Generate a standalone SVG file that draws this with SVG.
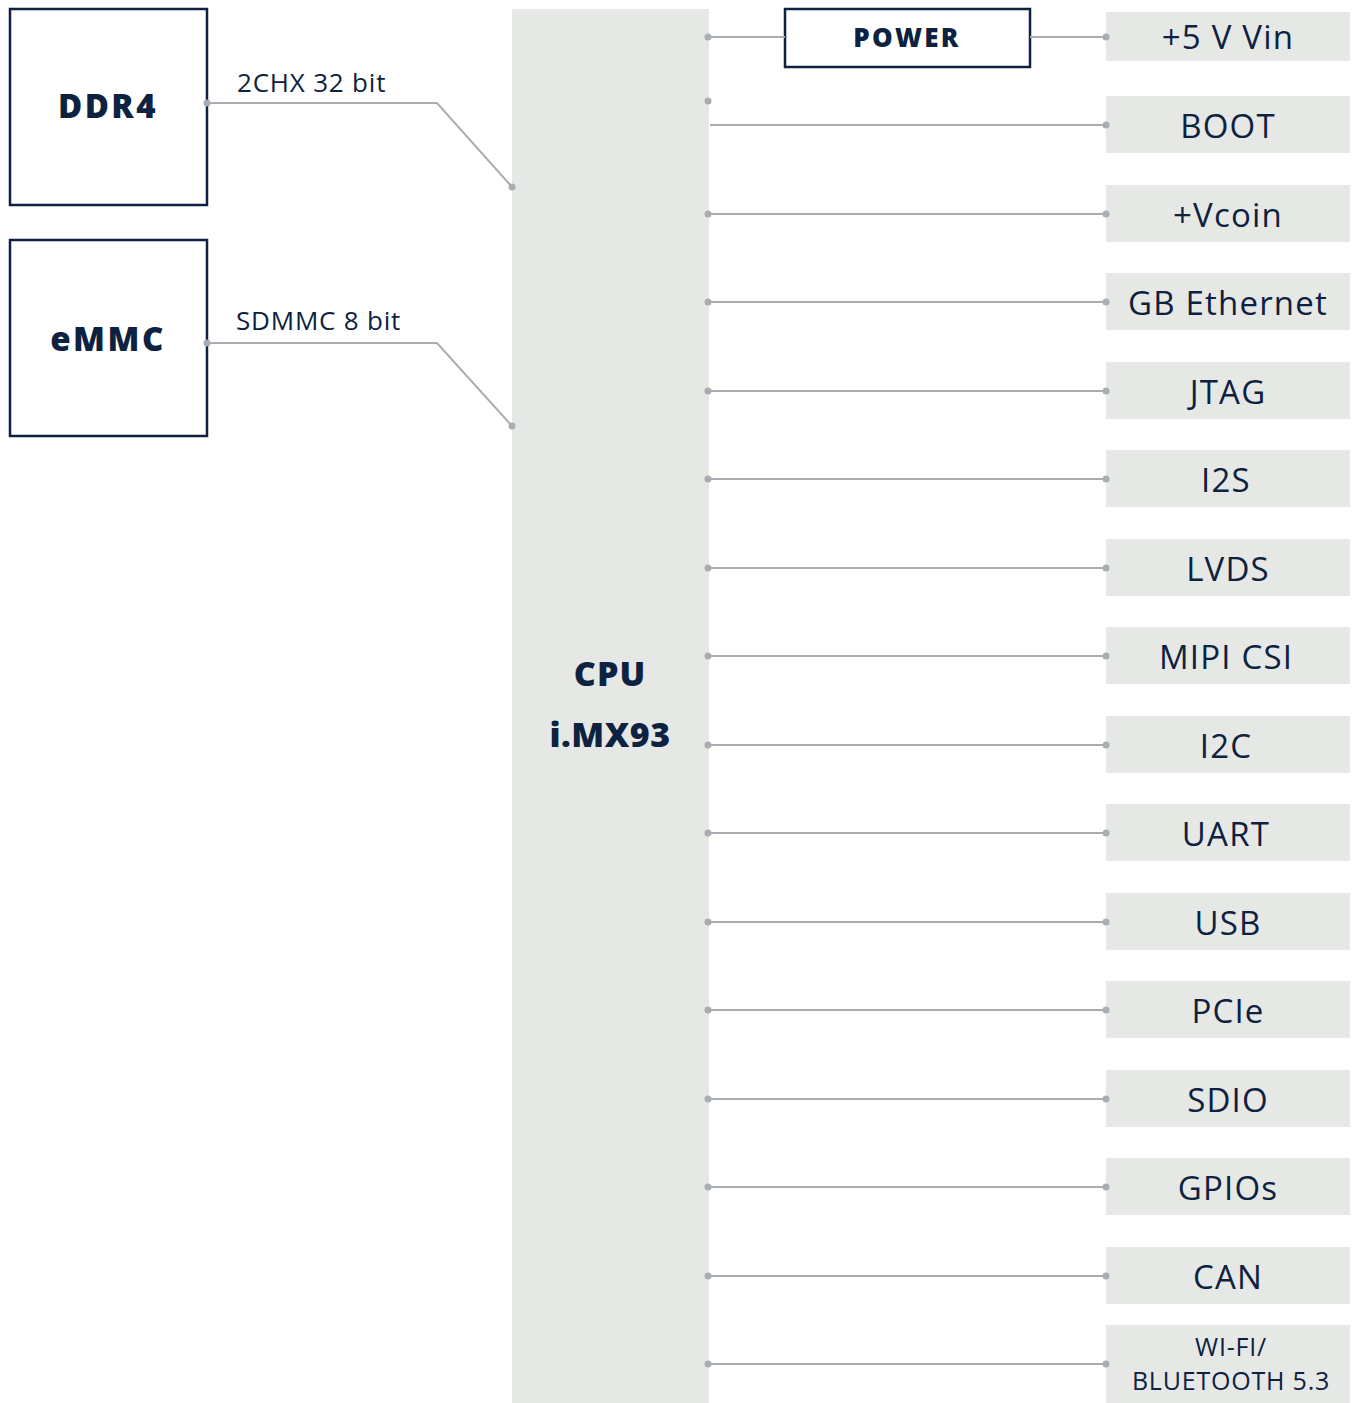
<svg xmlns="http://www.w3.org/2000/svg" width="1354" height="1403" viewBox="0 0 1354 1403">
<style>
.box{fill:#fff;stroke:#0d2240;stroke-width:2.5}
.ifc{fill:#e6e8e5}
.t{font-family:"Open Sans","Liberation Sans",sans-serif;fill:#0d2240}
.b{font-weight:800}
.lbl{font-size:33px;text-anchor:middle;letter-spacing:1.2px}
.con{fill:none;stroke:#a9adb1;stroke-width:2}
.dot{fill:#a9adb1}
</style>
<rect width="1354" height="1403" fill="#fff"/>
<g id="cpu">
<rect class="ifc" x="512" y="9" width="197" height="1394"/>
<text class="t b" x="610" y="686" font-size="34" text-anchor="middle" letter-spacing="1">CPU</text>
<text class="t b" x="610" y="747" font-size="34" text-anchor="middle" letter-spacing="0.5">i.MX93</text>
</g>
<g id="ddr4">
<rect class="box" x="10" y="9" width="197" height="196"/>
<text class="t b" x="108" y="118" font-size="33" text-anchor="middle" letter-spacing="2.5">DDR4</text>
</g>
<g id="emmc">
<rect class="box" x="10" y="240" width="197" height="196"/>
<text class="t b" x="108" y="351" font-size="33" text-anchor="middle" letter-spacing="2.5">eMMC</text>
</g>
<g id="power">
<rect class="box" x="785" y="9" width="245" height="58"/>
<text class="t b" x="907" y="47" font-size="26" text-anchor="middle" letter-spacing="2.3">POWER</text>
</g>
<g id="vin"><rect class="ifc" x="1106" y="12" width="244" height="49"/><text class="t lbl" x="1228" y="49">+5 V Vin</text></g>
<g id="boot"><rect class="ifc" x="1106" y="96" width="244" height="57"/><text class="t lbl" x="1228" y="138">BOOT</text></g>
<g id="vcoin"><rect class="ifc" x="1106" y="185" width="244" height="57"/><text class="t lbl" x="1228" y="227">+Vcoin</text></g>
<g id="eth"><rect class="ifc" x="1106" y="273" width="244" height="57"/><text class="t lbl" x="1228" y="315">GB Ethernet</text></g>
<g id="jtag"><rect class="ifc" x="1106" y="362" width="244" height="57"/><text class="t lbl" x="1228" y="404">JTAG</text></g>
<g id="i2s"><rect class="ifc" x="1106" y="450" width="244" height="57"/><text class="t lbl" x="1226" y="492">I2S</text></g>
<g id="lvds"><rect class="ifc" x="1106" y="539" width="244" height="57"/><text class="t lbl" x="1228" y="581">LVDS</text></g>
<g id="mipi"><rect class="ifc" x="1106" y="627" width="244" height="57"/><text class="t lbl" x="1226" y="669">MIPI CSI</text></g>
<g id="i2c"><rect class="ifc" x="1106" y="716" width="244" height="57"/><text class="t lbl" x="1226" y="758">I2C</text></g>
<g id="uart"><rect class="ifc" x="1106" y="804" width="244" height="57"/><text class="t lbl" x="1226" y="846">UART</text></g>
<g id="usb"><rect class="ifc" x="1106" y="893" width="244" height="57"/><text class="t lbl" x="1228" y="935">USB</text></g>
<g id="pcie"><rect class="ifc" x="1106" y="981" width="244" height="57"/><text class="t lbl" x="1228" y="1023">PCIe</text></g>
<g id="sdio"><rect class="ifc" x="1106" y="1070" width="244" height="57"/><text class="t lbl" x="1228" y="1112">SDIO</text></g>
<g id="gpio"><rect class="ifc" x="1106" y="1158" width="244" height="57"/><text class="t lbl" x="1228" y="1200">GPIOs</text></g>
<g id="can"><rect class="ifc" x="1106" y="1247" width="244" height="57"/><text class="t lbl" x="1228" y="1289">CAN</text></g>
<g id="wifi"><rect class="ifc" x="1106" y="1325" width="244" height="78"/>
<text class="t" x="1231" y="1356" font-size="25" text-anchor="middle" letter-spacing="0.8">WI-FI/</text>
<text class="t" x="1231" y="1390" font-size="25" text-anchor="middle" letter-spacing="0.8">BLUETOOTH 5.3</text></g>
<g id="connectors">
<text class="t" x="237" y="92" font-size="26" letter-spacing="0.8">2CHX 32 bit</text>
<text class="t" x="236" y="330" font-size="26" letter-spacing="0.8">SDMMC 8 bit</text>
<polyline class="con" points="207,103 437,103 512,187"/>
<polyline class="con" points="207,343 437,343 512,426"/>
<circle class="dot" cx="207" cy="103" r="3.5"/><circle class="dot" cx="512" cy="187" r="3.5"/>
<circle class="dot" cx="207" cy="343" r="3.5"/><circle class="dot" cx="512" cy="426" r="3.5"/>
<line class="con" x1="708" y1="37" x2="785" y2="37"/><circle class="dot" cx="708" cy="37" r="3.5"/>
<line class="con" x1="1030" y1="37" x2="1106" y2="37"/><circle class="dot" cx="1106" cy="37" r="3.5"/>
<circle class="dot" cx="708" cy="101" r="3.5"/>
<line class="con" x1="710" y1="125" x2="1106" y2="125"/><circle class="dot" cx="1106" cy="125" r="3.5"/>
<g>
<line class="con" x1="708" y1="214" x2="1106" y2="214"/><circle class="dot" cx="708" cy="214" r="3.5"/><circle class="dot" cx="1106" cy="214" r="3.5"/>
<line class="con" x1="708" y1="302" x2="1106" y2="302"/><circle class="dot" cx="708" cy="302" r="3.5"/><circle class="dot" cx="1106" cy="302" r="3.5"/>
<line class="con" x1="708" y1="391" x2="1106" y2="391"/><circle class="dot" cx="708" cy="391" r="3.5"/><circle class="dot" cx="1106" cy="391" r="3.5"/>
<line class="con" x1="708" y1="479" x2="1106" y2="479"/><circle class="dot" cx="708" cy="479" r="3.5"/><circle class="dot" cx="1106" cy="479" r="3.5"/>
<line class="con" x1="708" y1="568" x2="1106" y2="568"/><circle class="dot" cx="708" cy="568" r="3.5"/><circle class="dot" cx="1106" cy="568" r="3.5"/>
<line class="con" x1="708" y1="656" x2="1106" y2="656"/><circle class="dot" cx="708" cy="656" r="3.5"/><circle class="dot" cx="1106" cy="656" r="3.5"/>
<line class="con" x1="708" y1="745" x2="1106" y2="745"/><circle class="dot" cx="708" cy="745" r="3.5"/><circle class="dot" cx="1106" cy="745" r="3.5"/>
<line class="con" x1="708" y1="833" x2="1106" y2="833"/><circle class="dot" cx="708" cy="833" r="3.5"/><circle class="dot" cx="1106" cy="833" r="3.5"/>
<line class="con" x1="708" y1="922" x2="1106" y2="922"/><circle class="dot" cx="708" cy="922" r="3.5"/><circle class="dot" cx="1106" cy="922" r="3.5"/>
<line class="con" x1="708" y1="1010" x2="1106" y2="1010"/><circle class="dot" cx="708" cy="1010" r="3.5"/><circle class="dot" cx="1106" cy="1010" r="3.5"/>
<line class="con" x1="708" y1="1099" x2="1106" y2="1099"/><circle class="dot" cx="708" cy="1099" r="3.5"/><circle class="dot" cx="1106" cy="1099" r="3.5"/>
<line class="con" x1="708" y1="1187" x2="1106" y2="1187"/><circle class="dot" cx="708" cy="1187" r="3.5"/><circle class="dot" cx="1106" cy="1187" r="3.5"/>
<line class="con" x1="708" y1="1276" x2="1106" y2="1276"/><circle class="dot" cx="708" cy="1276" r="3.5"/><circle class="dot" cx="1106" cy="1276" r="3.5"/>
<line class="con" x1="708" y1="1364" x2="1106" y2="1364"/><circle class="dot" cx="708" cy="1364" r="3.5"/><circle class="dot" cx="1106" cy="1364" r="3.5"/>
</g>
</g>
</svg>
